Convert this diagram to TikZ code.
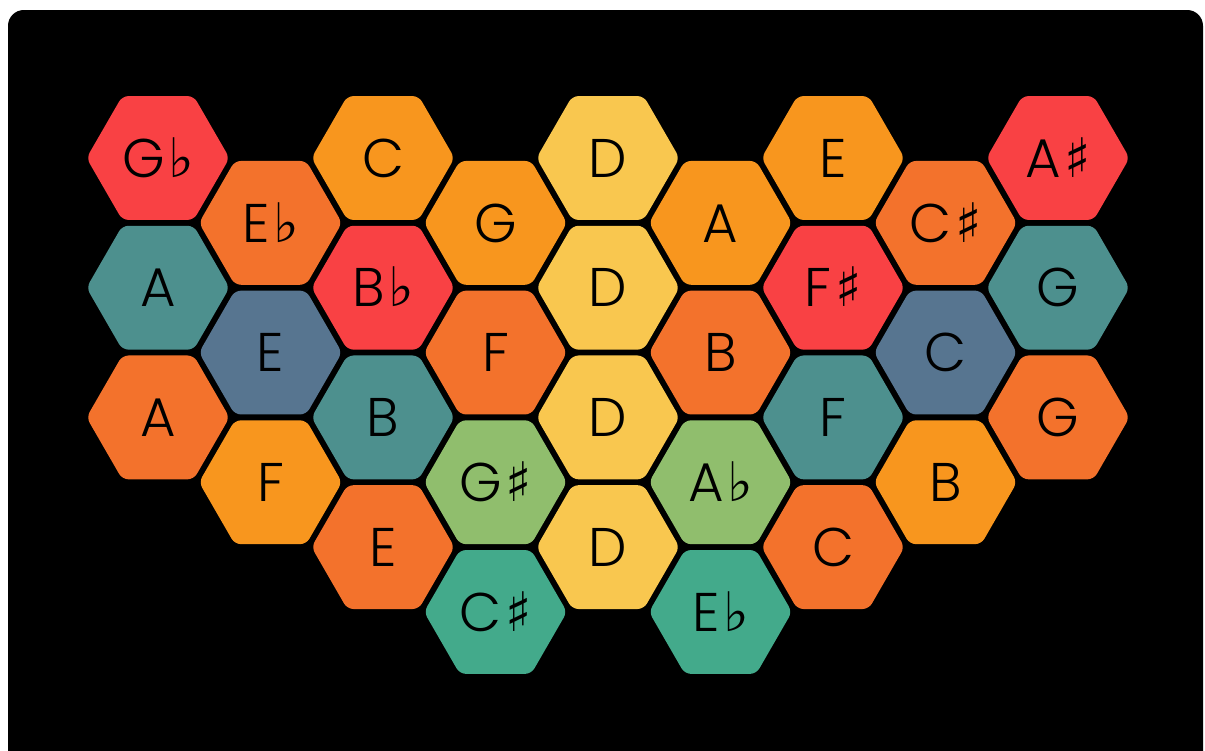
\documentclass[tikz,border=0pt]{standalone}
\usepackage{fontspec}
\setmainfont{Poppins}[UprightFont=* Light]
\newfontfamily\accfont{DejaVu Sans}
\usetikzlibrary{shapes.geometric}

\definecolor{hexred}{HTML}{F94144}
\definecolor{hexdeeporange}{HTML}{F3722C}
\definecolor{hexorange}{HTML}{F8961E}
\definecolor{hexyellow}{HTML}{F9C74F}
\definecolor{hexgreen}{HTML}{90BE6D}
\definecolor{hexsea}{HTML}{43AA8B}
\definecolor{hexteal}{HTML}{4D908E}
\definecolor{hexslate}{HTML}{577590}

\newcommand{\nflat}{\kern2pt{\accfont\char"266D}}
\newcommand{\nsharp}{\kern2pt{\accfont\char"266F}}

\begin{document}
\begin{tikzpicture}[
        x=0.02cm, y=-0.02cm,
        hex/.style={regular polygon, regular polygon sides=6, minimum size=2.86cm,
            inner sep=0pt, rounded corners=3.5pt, fill=#1,
            font=\fontsize{31}{31}\selectfont, text height=0.77cm, text depth=0pt}
    ]
    \useasboundingbox (0,0) rectangle (1205,751);
    \fill[white] (0,0) rectangle (1205,751);
    \fill[black, rounded corners=9pt] (8,10) rectangle (1203,800);

    % columns left to right, rows top to bottom
    \foreach \c/\r/\note/\col in {
        0/0/G\nflat/hexred, 0/1/A/hexteal, 0/2/A/hexdeeporange,
        1/0/E\nflat/hexdeeporange, 1/1/E/hexslate, 1/2/F/hexorange,
        2/0/C/hexorange, 2/1/B\nflat/hexred, 2/2/B/hexteal, 2/3/E/hexdeeporange,
        3/0/G/hexorange, 3/1/F/hexdeeporange, 3/2/G\nsharp/hexgreen, 3/3/C\nsharp/hexsea,
        4/0/D/hexyellow, 4/1/D/hexyellow, 4/2/D/hexyellow, 4/3/D/hexyellow,
        5/0/A/hexorange, 5/1/B/hexdeeporange, 5/2/A\nflat/hexgreen, 5/3/E\nflat/hexsea,
        6/0/E/hexorange, 6/1/F\nsharp/hexred, 6/2/F/hexteal, 6/3/C/hexdeeporange,
        7/0/C\nsharp/hexdeeporange, 7/1/C/hexslate, 7/2/B/hexorange,
        8/0/A\nsharp/hexred, 8/1/G/hexteal, 8/2/G/hexdeeporange}
    {
        \node[hex=\col] (h\c\r) at ({158+112.5*\c},{158+64.85*mod(\c,2)+129.7*\r}) {\note};
    }
\end{tikzpicture}
\end{document}
